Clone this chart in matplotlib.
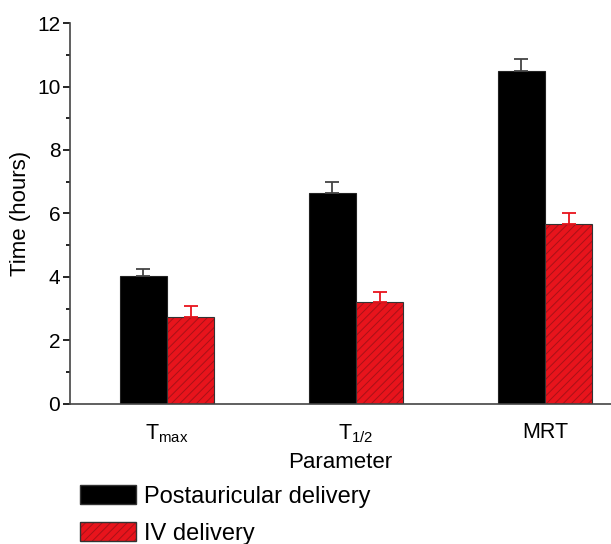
import matplotlib
matplotlib.use("Agg")
import matplotlib.pyplot as plt
import numpy as np
from matplotlib.patches import Patch
from matplotlib.ticker import MultipleLocator
from matplotlib.legend_handler import HandlerTuple

plt.rcParams['font.family'] = ['Liberation Sans', 'DejaVu Sans']
plt.rcParams['hatch.linewidth'] = 0.7

categories = [r'$\mathregular{T_{max}}$', r'$\mathregular{T_{1/2}}$', 'MRT']
postauricular = [4.02, 6.65, 10.50]
postauricular_err = [0.22, 0.33, 0.36]
iv = [2.75, 3.22, 5.66]
iv_err = [0.33, 0.31, 0.35]
series_names = ['Postauricular delivery', 'IV delivery']

fig = plt.figure(figsize=(6.11, 5.44), dpi=100)
ax = fig.add_axes([0.1146, 0.2574, 0.8854, 0.7003])

x = np.arange(len(categories))
w = 0.249
red = '#e8141c'
hatch_col = '#a81218'

ax.bar(x - w/2, postauricular, w, color='black', edgecolor='#222222', linewidth=0.8)
ax.bar(x + w/2, iv, w, color=red, edgecolor=hatch_col, linewidth=0, hatch='////')
ax.bar(x + w/2, iv, w, fill=False, edgecolor='#333333', linewidth=0.8)
ax.errorbar(x - w/2, postauricular, yerr=[np.zeros(3), postauricular_err], fmt='none',
            ecolor='#444444', elinewidth=1.3, capsize=4.7, capthick=1.3)
ax.errorbar(x + w/2, iv, yerr=[np.zeros(3), iv_err], fmt='none',
            ecolor=red, elinewidth=1.3, capsize=4.7, capthick=1.3)

ax.set_xlim(-0.513, 2.349)
ax.set_ylim(0, 12)
ax.yaxis.set_major_locator(MultipleLocator(2))
ax.yaxis.set_minor_locator(MultipleLocator(1))
ax.set_xticks(x)
ax.set_xticklabels(categories, fontsize=15.5)
ax.tick_params(axis='x', length=0, pad=13)
ax.tick_params(axis='y', which='major', length=5, width=1.2, labelsize=15, direction='out', pad=2)
ax.tick_params(axis='y', which='minor', length=3, width=1.2, direction='out')
for s in ['top', 'right']:
    ax.spines[s].set_visible(False)
for s in ['left', 'bottom']:
    ax.spines[s].set_linewidth(1.2)
    ax.spines[s].set_color('#444444')

ax.set_ylabel('Time (hours)', fontsize=16, labelpad=4)
ax.set_xlabel('Parameter', fontsize=16, labelpad=5)

h_black = Patch(facecolor='black', edgecolor='#333333')
h_red = (Patch(facecolor=red, edgecolor=hatch_col, linewidth=0, hatch='////'),
         Patch(fill=False, edgecolor='#333333'))
fig.legend([h_black, h_red], series_names, loc='upper left', bbox_to_anchor=(0.131, 0.108),
           frameon=False, fontsize=17, handlelength=2.35, handleheight=0.85,
           labelspacing=0.6, handletextpad=0.35, borderaxespad=0, borderpad=0,
           handler_map={tuple: HandlerTuple(ndivide=1, pad=0)})

fig.savefig('out.png', dpi=100)
